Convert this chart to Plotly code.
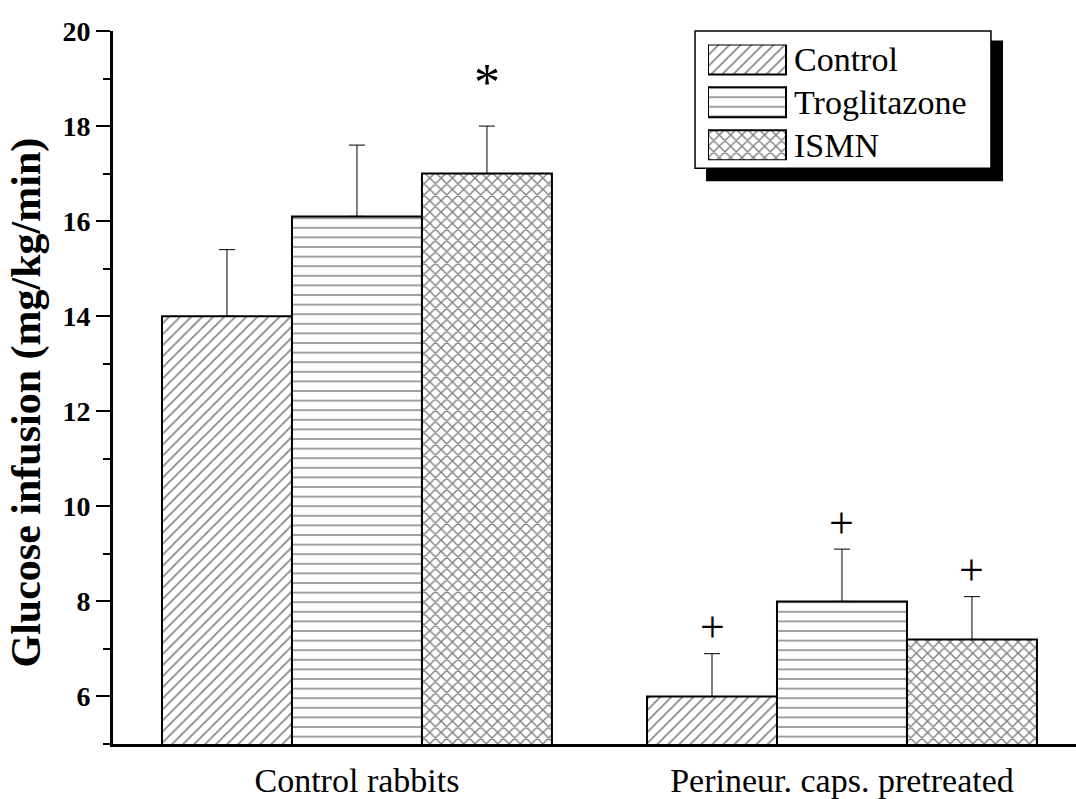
import plotly.graph_objects as go

# ---- data ----
categories = ["Control rabbits", "Perineur. caps. pretreated"]
series_names = ["Control", "Troglitazone", "ISMN"]
control_vals = [14.0, 6.0]
control_err = [1.4, 0.9]
trog_vals = [16.1, 8.0]
trog_err = [1.5, 1.1]
ismn_vals = [17.0, 7.2]
ismn_err = [1.0, 0.9]
# significance marks per series per group
control_marks = ["", "+"]
trog_marks = ["", "+"]
ismn_marks = ["*", "+"]
y_ticks = [6, 8, 10, 12, 14, 16, 18, 20]
y_title = "Glucose infusion (mg/kg/min)"

FONT = "Liberation Serif"
patterns = [
    dict(shape="/", size=7.8, solidity=0.2, fgcolor="black", bgcolor="white"),
    dict(shape="-", size=9.6, solidity=0.15, fgcolor="black", bgcolor="white"),
    dict(shape="x", size=8.0, solidity=0.32, fgcolor="black", bgcolor="white"),
]

values = [control_vals, trog_vals, ismn_vals]
errors = [control_err, trog_err, ismn_err]
marks = [control_marks, trog_marks, ismn_marks]

bargap = 0.196
barw = (1 - bargap) / 3

fig = go.Figure()
for i, name in enumerate(series_names):
    fig.add_trace(go.Bar(
        x=categories, y=values[i], name=name, showlegend=False,
        marker=dict(color="white", line=dict(color="black", width=2), pattern=patterns[i]),
        error_y=dict(type="data", array=errors[i], arrayminus=[0] * len(categories),
                     symmetric=False, color="black", thickness=1, width=8),
    ))

# significance annotations
for i in range(3):
    for g in range(len(categories)):
        m = marks[i][g]
        if not m:
            continue
        top = values[i][g] + errors[i][g]
        star = m == "*"
        fig.add_annotation(
            x=g + (i - 1) * barw, y=top, xref="x", yref="y",
            text=m, showarrow=False, yanchor="middle",
            yshift=44 if star else 26,
            font=dict(family=FONT, size=52 if star else 44, color="black"),
        )

# y-axis title (placed as rotated text)
fig.add_annotation(x=-0.0903, y=0.479, xref="paper", yref="paper", text="<b>" + y_title + "</b>",
                   textangle=-90, showarrow=False, xanchor="center", yanchor="middle",
                   font=dict(family=FONT, size=42, color="black"))

# ---- legend drawn with an inset axis ----
fig.add_trace(go.Bar(
    x=[1, 1, 1], y=[0, 1, 2], orientation="h", base=0, width=0.698,
    xaxis="x2", yaxis="y2", showlegend=False, hoverinfo="skip",
    marker=dict(color="white", line=dict(color="black", width=2),
                pattern=dict(shape=[p["shape"] for p in patterns],
                             size=[p["size"] for p in patterns],
                             solidity=[p["solidity"] for p in patterns],
                             fgcolor="black", bgcolor="white")),
))
for k, name in enumerate(series_names):
    fig.add_annotation(x=1, y=k, xref="x2", yref="y2", text=name, showarrow=False,
                       xanchor="left", yanchor="middle", xshift=6,
                       font=dict(family=FONT, size=34, color="black"))

# legend shadow and box
fig.add_shape(type="rect", xref="paper", yref="paper", x0=0.6158, x1=0.9242, y0=0.7891, y1=0.9868,
              fillcolor="black", line=dict(color="black", width=0), layer="below")
fig.add_shape(type="rect", xref="paper", yref="paper", x0=0.6044, x1=0.9117, y0=0.8074, y1=1.0,
              fillcolor="white", line=dict(color="black", width=1.5), layer="below")

fig.update_layout(
    width=1076, height=799,
    margin=dict(l=113, r=0, t=31, b=55, autoexpand=False),
    paper_bgcolor="white", plot_bgcolor="white",
    barmode="group", bargap=bargap, bargroupgap=0,
    font=dict(family=FONT, color="black"),
    xaxis=dict(
        type="category", range=[-0.503, 1.4825], automargin=False,
        showline=True, linecolor="black", linewidth=3,
        ticks="", showgrid=False, zeroline=False, ticklabelstandoff=4,
        tickfont=dict(family=FONT, size=34, color="black"),
    ),
    yaxis=dict(
        range=[5, 20], tickvals=y_ticks, automargin=False,
        showline=True, linecolor="black", linewidth=3,
        ticks="outside", ticklen=14, tickwidth=2, tickcolor="black",
        minor=dict(dtick=1, tick0=5, ticks="outside", ticklen=7, tickwidth=2, tickcolor="black"),
        showgrid=False, zeroline=False,
        tickfont=dict(family=FONT, size=28, color="black", weight="bold"),
    ),
    xaxis2=dict(domain=[0.61786, 0.90135], range=[0, 3.5], visible=False, anchor="y2"),
    yaxis2=dict(domain=[0.8186, 0.9812], range=[2.349, -0.349], visible=False, anchor="x2"),
)

fig.write_html(
    "out.html",
    config={"displayModeBar": False},
    post_script="document.body.style.margin='0';document.body.style.overflow='hidden';",
)
